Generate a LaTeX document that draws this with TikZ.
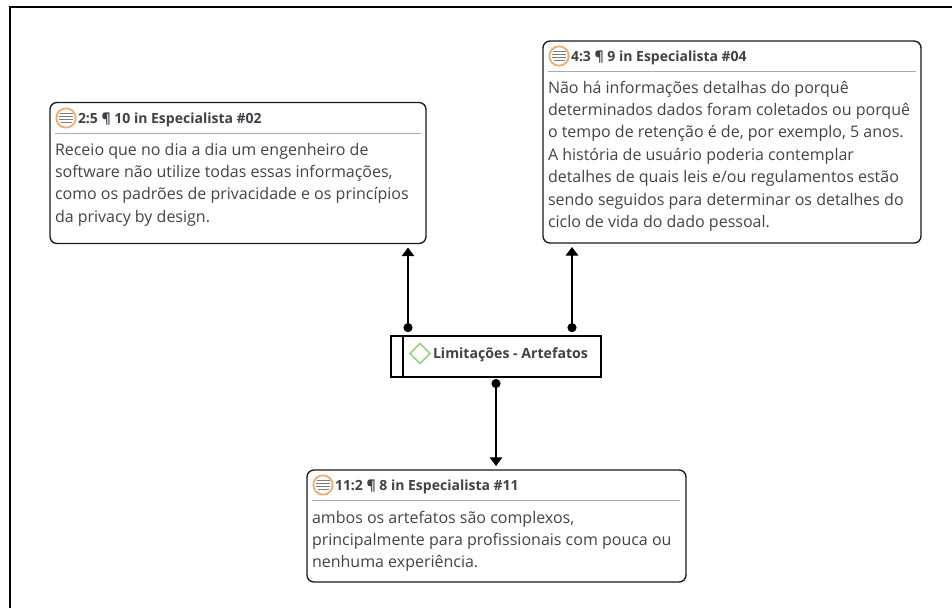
\documentclass[tikz,border=0pt]{standalone}
\usepackage{fontspec}
\setmainfont{Open Sans}
\usetikzlibrary{arrows.meta,calc}
\definecolor{txt}{RGB}{68,68,68}
\definecolor{titletxt}{RGB}{62,66,72}
\definecolor{iconring}{RGB}{240,170,110}
\definecolor{iconbar}{RGB}{125,125,125}
\definecolor{sepline}{RGB}{170,170,170}
\definecolor{diam}{RGB}{150,210,130}
\tikzset{
  every node/.style={inner sep=0pt,outer sep=0pt},
  quotebox/.style={draw=black!90,line width=1pt,rounded corners=5.2pt,anchor=north west},
  codebox/.style={draw=black,line width=0.9pt,anchor=north west},
  titletext/.style={anchor=base west,text=titletxt,font=\fontsize{10.5pt}{12pt}\selectfont\bfseries},
  codetext/.style={anchor=base west,text=titletxt,font=\fontsize{10.6pt}{12pt}\selectfont\bfseries},
  bodytext/.style={anchor=north west,align=left,text=txt,font=\fontsize{12pt}{16.8pt}\selectfont},
  sep/.style={draw=sepline,line width=0.9pt},
  ring/.style={draw=iconring,line width=1.3pt,circle,minimum size=14.5pt},
  bar/.style={draw=iconbar,line width=0.8pt},
  conn/.style={draw=black,line width=0.9pt,{Circle[length=6.8pt,width=6.8pt]}-{Triangle[length=6.5pt,width=9.5pt]}},
}
\newcommand{\noteicon}[2]{%
  \node[ring] at (#1,#2) {};
  \draw[bar] (#1-6.5,#2-4.5) -- (#1+6.5,#2-4.5);
  \draw[bar] (#1-7,#2-1.5) -- (#1+7,#2-1.5);
  \draw[bar] (#1-7,#2+1.5) -- (#1+7,#2+1.5);
  \draw[bar] (#1-5.5,#2+4.5) -- (#1+5.5,#2+4.5);
}
\newcommand{\topstrut}{\rule{0pt}{10pt}}
\begin{document}
\begin{tikzpicture}[x=0.75pt,y=-0.75pt]
\useasboundingbox (0,0) rectangle (952,608);
\fill[white] (0,0) rectangle (952,608);
\draw[black,line width=1.5pt] (9.5,608) -- (9.5,6.5) -- (952,6.5);

% box A
\node[quotebox,minimum width=282pt,minimum height=105.75pt] (boxA) at (50,102.5) {};
\noteicon{66}{118}
\node[titletext] (titleA) at (78,123) {2:5 ¶ 10 in Especialista \#02};
\draw[sep] (55,133.5) -- (421,133.5);
\node[bodytext] (bodyA) at (55,141.7) {\topstrut Receio que no dia a dia um engenheiro de\\software não utilize todas essas informações,\\como os padrões de privacidade e os princípios\\da privacy by design.};

% box B
\node[quotebox,minimum width=283.5pt,minimum height=151.5pt] (boxB) at (543,41) {};
\noteicon{559}{56}
\node[titletext] (titleB) at (571,61) {4:3 ¶ 9 in Especialista \#04};
\draw[sep] (548,71.5) -- (916,71.5);
\node[bodytext] (bodyB) at (548,79.7) {\topstrut Não há informações detalhas do porquê\\determinados dados foram coletados ou porquê\\o tempo de retenção é de, por exemplo, 5 anos.\\A história de usuário poderia contemplar\\detalhes de quais leis e/ou regulamentos estão\\sendo seguidos para determinar os detalhes do\\ciclo de vida do dado pessoal.};

% centre
\node[codebox,minimum width=157.5pt,minimum height=30.75pt] (cen) at (391,336) {};
\draw[black,line width=0.9pt] (403,336) -- (403,377);
\draw[draw=diam,line width=1.3pt] (420,343.5) -- (430,353.5) -- (420,363.5) -- (410,353.5) -- cycle;
\node[codetext] (titleC) at (433,358.5) {Limitações - Artefatos};

% box C
\node[quotebox,minimum width=284.25pt,minimum height=84pt] (boxC) at (307,470) {};
\noteicon{323}{485}
\node[titletext] (titleD) at (335,490.5) {11:2 ¶ 8 in Especialista \#11};
\draw[sep] (312,500.5) -- (680,500.5);
\node[bodytext] (bodyC) at (312,509.7) {\topstrut ambos os artefatos são complexos,\\principalmente para profissionais com pouca ou\\nenhuma experiência.};

% connectors
\coordinate (xa) at (408,0);
\coordinate (xb) at (572,0);
\coordinate (xc) at (496,0);
\draw[conn,shorten <=2.9pt,shorten >=3pt] (cen.north -| xa) -- (boxA.south -| xa);
\draw[conn,shorten <=2.9pt,shorten >=3pt] (cen.north -| xb) -- (boxB.south -| xb);
\draw[conn,shorten <=1.5pt,shorten >=3pt] (cen.south -| xc) -- (boxC.north -| xc);
\end{tikzpicture}
\end{document}
